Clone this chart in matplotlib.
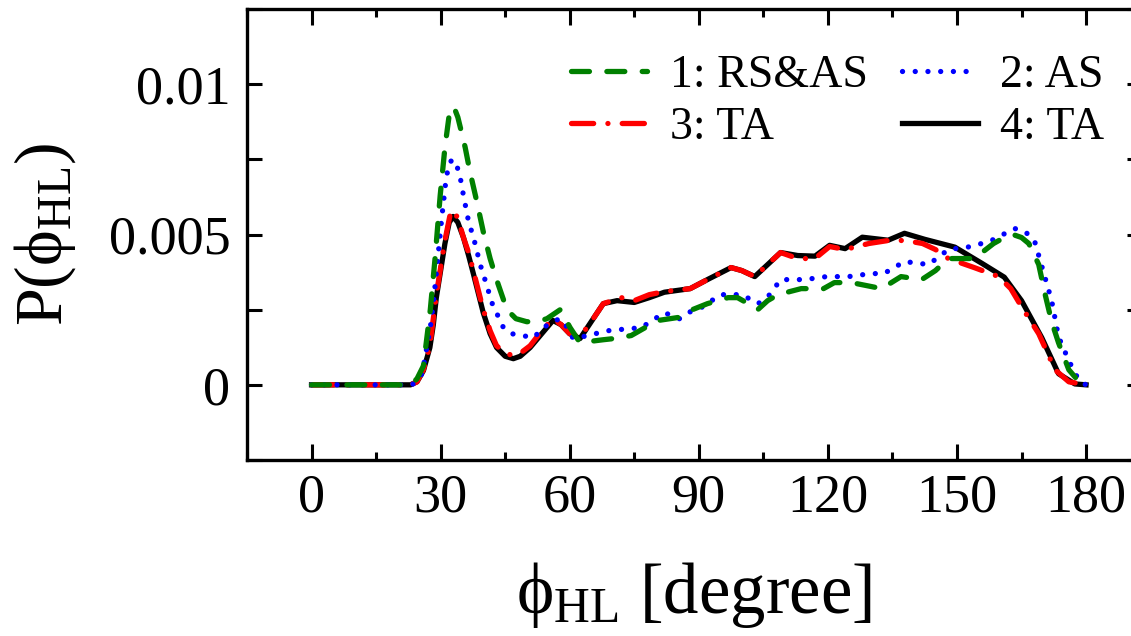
import matplotlib
matplotlib.use("Agg")
import matplotlib.pyplot as plt
from matplotlib.ticker import MultipleLocator

plt.rcParams['font.family'] = ['Liberation Serif', 'DejaVu Serif']
plt.rcParams['mathtext.fontset'] = 'custom'
plt.rcParams['mathtext.rm'] = 'Liberation Serif'
plt.rcParams['mathtext.it'] = 'Liberation Serif:italic'

# series: angle [degree] -> probability
x_rsas = [0, 23, 24.5, 26, 27.6, 28.7, 29.9, 31, 32.2, 33.2, 34, 35.7, 36.8, 38.4, 39.9,
          41.5, 43, 45.4, 47.5, 50, 52.5, 54.7, 57.8, 60.1, 62.4, 65, 67.8, 71, 74.3,
          77.5, 80.5, 85.2, 88.5, 92, 96.8, 99, 101.5, 103.7, 106, 108.4, 113.8, 119,
          121.5, 125.5, 129, 132.5, 137, 141.8, 145, 148, 154, 158.5, 161, 163, 165,
          166.7, 169, 170.5, 172, 173.6, 176, 179, 180]
p_rsas = [0, 0, 0.0002, 0.00063, 0.0025, 0.0042, 0.0063, 0.0079, 0.0092, 0.0092, 0.0089,
          0.0079, 0.0071, 0.0061, 0.0051, 0.0042, 0.0035, 0.0025, 0.0022, 0.0021, 0.0021,
          0.0022, 0.0025, 0.0019, 0.0014, 0.00145, 0.0015, 0.00155, 0.00164, 0.0019,
          0.00214, 0.00224, 0.0025, 0.0027, 0.0029, 0.0029, 0.0027, 0.0025, 0.0028, 0.003,
          0.0032, 0.0032, 0.0034, 0.0034, 0.0033, 0.0032, 0.0036, 0.0035, 0.0038, 0.0042,
          0.0042, 0.0047, 0.0049, 0.005, 0.0049, 0.0047, 0.004, 0.003, 0.0021, 0.0014,
          0.0005, 0, 0]

x_as = [0, 23.4, 25.7, 27.6, 28.3, 29.2, 30.3, 31.3, 32.1, 32.9, 34.3, 35.3, 36.4, 38,
        39.2, 40.3, 42, 44.6, 46.5, 48.9, 51.6, 53.9, 56, 57.8, 59.5, 60.8, 63, 65.9,
        68.9, 72.5, 76.6, 82, 85.5, 87.5, 91, 95, 100, 103.8, 106.5, 109, 114.6, 119.7,
        124.8, 130, 133, 137.8, 143.4, 148, 153.4, 158, 163.4, 165.8, 168, 170.4, 172,
        173.6, 176, 178.4, 180]
p_as = [0, 0, 0.00037, 0.0019, 0.0027, 0.004, 0.0056, 0.0069, 0.0074, 0.0075, 0.0071,
        0.0063, 0.0055, 0.0047, 0.004, 0.0035, 0.0027, 0.0019, 0.0017, 0.00164, 0.00157,
        0.0019, 0.0021, 0.0022, 0.0019, 0.00154, 0.0016, 0.0017, 0.0018, 0.00185, 0.0019,
        0.0024, 0.0022, 0.0024, 0.0026, 0.003, 0.003, 0.0027, 0.003, 0.0035, 0.0035,
        0.0036, 0.0036, 0.0037, 0.0037, 0.0041, 0.004, 0.0045, 0.0046, 0.0048, 0.0052,
        0.0051, 0.0048, 0.0036, 0.0028, 0.0016, 0.0008, 0.00013, 0]

x_ta3 = [0, 23, 24.5, 26, 27.5, 29, 30, 31, 32.4, 33.5, 34.5, 35.3, 36.5, 37.6, 39.9,
         41.5, 43, 45, 47, 48.5, 50.8, 53.5, 56.1, 58, 60, 62.4, 65, 67.8, 72, 75, 78.5,
         82, 88, 92, 97.5, 100, 103, 106, 109, 113, 117, 120.4, 124, 129.5, 134, 138,
         142, 145, 148, 154, 159.7, 162.5, 165, 169, 172.8, 176, 180]
p_ta3 = [0, 0, 0.0001, 0.0005, 0.0013, 0.003, 0.0039, 0.0048, 0.0058, 0.0057, 0.0053,
         0.0049, 0.0044, 0.0038, 0.0025, 0.0018, 0.0013, 0.00105, 0.00097, 0.00105,
         0.0013, 0.0018, 0.0022, 0.002, 0.0017, 0.0016, 0.0021, 0.0027, 0.0029, 0.0028,
         0.0030, 0.0031, 0.0032, 0.0035, 0.0039, 0.0038, 0.0036, 0.004, 0.0044, 0.0042,
         0.0042, 0.0046, 0.0045, 0.0047, 0.0048, 0.0048, 0.0047, 0.0045, 0.0042, 0.0039,
         0.0036, 0.0032, 0.0026, 0.0017, 0.0005, 0.0001, 0]

x_ta4 = [0, 23, 24.5, 26, 27.5, 28.3, 29, 30, 31, 32, 32.9, 34, 35.3, 36.5, 37.6, 39.9,
         41.5, 43, 45, 46.9, 48.5, 50.8, 53.5, 56.1, 58, 60, 62.4, 65, 67.8, 71, 75,
         78.5, 82, 88, 92, 97.5, 100, 103, 106, 109, 113, 117, 120.4, 124, 128, 134,
         137.8, 142.5, 149.5, 155.8, 161, 165, 169.7, 173.6, 177.4, 180]
p_ta4 = [0, 0, 0.0001, 0.00047, 0.00124, 0.002, 0.0029, 0.0038, 0.0047, 0.0054, 0.0056,
         0.0054, 0.0049, 0.0043, 0.0037, 0.0024, 0.0017, 0.00124, 0.00095, 0.00087,
         0.00095, 0.00124, 0.0017, 0.00214, 0.002, 0.0017, 0.00154, 0.0021, 0.0027,
         0.0028, 0.00274, 0.0029, 0.00308, 0.0032, 0.0035, 0.0039, 0.0038, 0.0036,
         0.004, 0.0044, 0.0043, 0.00428, 0.00464, 0.00453, 0.00491, 0.00481, 0.00504,
         0.00484, 0.00458, 0.00404, 0.00358, 0.0028, 0.00157, 0.00037, 0.00003, 0]

labels = ['1: RS&AS', '2: AS', '3: TA', '4: TA']

fig = plt.figure(figsize=(11.31, 6.36), dpi=100)
ax = fig.add_axes([247 / 1131, 176 / 636, 895 / 1131, 451 / 636])

lw = 3.8
l4, = ax.plot(x_ta4, p_ta4, color='black', lw=lw, label=labels[3])
l3, = ax.plot(x_ta3, p_ta3, color='red', lw=lw, dashes=(4.2, 2.7, 0.01, 2.7),
              dash_capstyle='round', label=labels[2])
l2, = ax.plot(x_as, p_as, color='blue', lw=lw, dashes=(0.01, 2.4),
              dash_capstyle='round', label=labels[1])
l1, = ax.plot(x_rsas, p_rsas, color='green', lw=lw, dashes=(3.4, 3.3),
              dash_capstyle='round', label=labels[0])

ax.set_xlim(-15, 193)
ax.set_ylim(-0.0025, 0.0125)
ax.xaxis.set_major_locator(MultipleLocator(30))
ax.xaxis.set_minor_locator(MultipleLocator(15))
ax.yaxis.set_minor_locator(MultipleLocator(0.0025))
ax.set_yticks([0, 0.005, 0.01])
ax.set_yticklabels(['0', '0.005', '0.01'])

ax.tick_params(which='both', direction='in', top=True, right=True, width=2.2,
               labelsize=39)
ax.tick_params(axis='x', which='major', length=11.5, pad=9)
ax.tick_params(axis='x', which='minor', length=6)
ax.tick_params(axis='y', which='both', length=11, pad=12)
for s in ax.spines.values():
    s.set_linewidth(2.4)

ax.set_xlabel(r'$\mathrm{\phi_{HL}}$ [degree]', fontsize=51, labelpad=27)
ax.set_ylabel(r'P($\mathrm{\phi_{HL}}$)', fontsize=49, labelpad=22)

ax.legend([l1, l3, l2, l4], [labels[0], labels[2], labels[1], labels[3]],
          ncol=2, frameon=False, fontsize=33, loc='upper left',
          bbox_to_anchor=((571 - 247) / 895, 0.9), borderpad=0, borderaxespad=0,
          handlelength=1.65, handletextpad=0.5, columnspacing=0.75, labelspacing=0.22)

fig.savefig('out.png', dpi=100)
